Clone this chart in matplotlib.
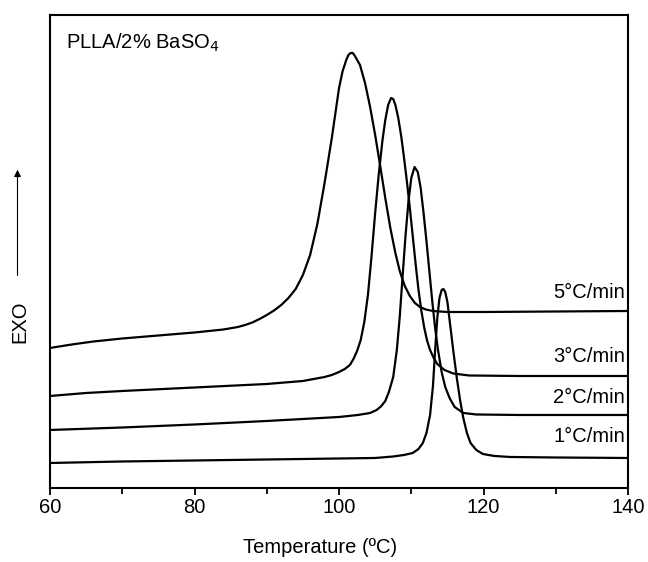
import matplotlib
matplotlib.use("Agg")
import matplotlib.pyplot as plt
from matplotlib.ticker import MultipleLocator

plt.rcParams["font.family"] = ["Liberation Sans", "DejaVu Sans"]

# ---------- DSC cooling curves (heat flow, arbitrary units, EXO up) ----------
t_5 = [60, 63, 66, 70, 75, 80, 84, 86, 87, 88, 89, 90, 91, 92, 93, 94, 95,
       96, 97, 98, 99, 100, 100.5, 101, 101.3, 101.6, 101.9, 102.2, 102.9,
       103.6, 104.3, 105, 105.7, 106.4, 107.1, 107.8, 108.4, 109.1, 109.8,
       110.5, 111.2, 112, 113, 115, 120, 130, 140]
q_5 = [1.40, 1.435, 1.465, 1.495, 1.525, 1.555, 1.585, 1.61, 1.63, 1.655,
       1.69, 1.73, 1.775, 1.83, 1.90, 1.99, 2.13, 2.33, 2.64, 3.05, 3.50,
       4.00, 4.17, 4.28, 4.33, 4.35, 4.35, 4.32, 4.23, 4.05, 3.81, 3.53, 3.22,
       2.90, 2.60, 2.35, 2.17, 2.02, 1.92, 1.85, 1.81, 1.785, 1.77, 1.76,
       1.76, 1.765, 1.77]

t_3 = [60, 65, 70, 80, 90, 95, 98, 99, 100, 100.8, 101.5, 102, 102.5, 103,
       103.5, 104, 104.5, 105, 105.5, 106, 106.4, 106.8, 107.2, 107.5, 107.8,
       108.2, 108.6, 109, 109.4, 109.8, 110.2, 110.6, 111, 111.4, 111.8,
       112.2, 112.6, 113.1, 113.6, 114.6, 115.8, 118, 125, 140]
q_3 = [0.92, 0.95, 0.97, 1.005, 1.04, 1.07, 1.11, 1.13, 1.16, 1.19, 1.23,
       1.29, 1.37, 1.48, 1.66, 1.93, 2.32, 2.75, 3.14, 3.47, 3.68, 3.83,
       3.90, 3.89, 3.83, 3.70, 3.52, 3.30, 3.06, 2.80, 2.52, 2.24, 1.98,
       1.77, 1.60, 1.47, 1.38, 1.30, 1.24, 1.18, 1.145, 1.125, 1.12, 1.12]

t_2 = [60, 70, 80, 90, 95, 100, 102.6, 104.3, 105.2, 105.8, 106.4, 106.9,
       107.5, 108, 108.4, 108.8, 109.2, 109.6, 110, 110.45, 110.9, 111.3,
       111.7, 112.1, 112.5, 112.9, 113.3, 113.7, 114.2, 114.7, 115.3, 116,
       117.2, 119, 125, 140]
q_2 = [0.58, 0.605, 0.635, 0.67, 0.69, 0.71, 0.73, 0.75, 0.78, 0.815, 0.87,
       0.96, 1.11, 1.38, 1.71, 2.12, 2.52, 2.86, 3.10, 3.21, 3.16, 3.00,
       2.75, 2.47, 2.17, 1.87, 1.60, 1.38, 1.16, 1.01, 0.90, 0.81, 0.75,
       0.735, 0.73, 0.73]

t_1 = [60, 70, 80, 90, 100, 105, 107.5, 109, 110.2, 111, 111.6, 112.1,
       112.6, 113, 113.3, 113.6, 113.9, 114.2, 114.45, 114.7, 115, 115.4,
       115.8, 116.3, 116.75, 117.2, 117.7, 118.2, 119, 119.9, 121.5, 123.7,
       130, 140]
q_1 = [0.25, 0.265, 0.275, 0.285, 0.295, 0.30, 0.315, 0.33, 0.35, 0.39,
       0.45, 0.55, 0.73, 1.02, 1.38, 1.70, 1.90, 1.98, 1.99, 1.96, 1.86,
       1.62, 1.38, 1.10, 0.88, 0.70, 0.55, 0.45, 0.38, 0.34, 0.32, 0.31,
       0.305, 0.30]

rates = ["5\u00b0C/min", "3\u00b0C/min", "2\u00b0C/min", "1\u00b0C/min"]
label_y = [1.95, 1.31, 0.90, 0.51]

fs = 14.5

fig = plt.figure(figsize=(6.48, 5.62), dpi=100)
ax = fig.add_axes([0.0772, 0.1317, 0.892, 0.8416])

for t, q in [(t_5, q_5), (t_3, q_3), (t_2, q_2), (t_1, q_1)]:
    ax.plot(t, q, color="black", lw=1.6, solid_joinstyle="round")

for lab, y in zip(rates, label_y):
    ax.text(139.6, y, lab, ha="right", va="center", fontsize=fs)

ax.text(62.2, 4.45, "PLLA/2% BaSO$_{4}$", ha="left", va="center", fontsize=fs)

ax.set_xlim(60, 140)
ax.set_ylim(0, 4.73)
ax.xaxis.set_major_locator(MultipleLocator(20))
ax.xaxis.set_minor_locator(MultipleLocator(10))
ax.tick_params(axis="x", which="major", direction="out", length=5, width=1.3,
               labelsize=fs, pad=2)
ax.tick_params(axis="x", which="minor", direction="out", length=4, width=1.3)
ax.set_yticks([])
for s in ax.spines.values():
    s.set_linewidth(1.5)

fig.text(0.494, 0.025, "Temperature (\u00baC)", ha="center", va="center",
         fontsize=fs)

# EXO label with upward arrow
fig.text(0.031, 0.427, "EXO", rotation=90, ha="center", va="center", fontsize=fs)
ax.annotate("", xy=(0.027, 0.703), xytext=(0.027, 0.505),
            xycoords="figure fraction", textcoords="figure fraction",
            arrowprops=dict(arrowstyle="-|>", color="black", lw=0.8,
                            mutation_scale=10))

plt.savefig("out.png", dpi=100, facecolor="white")
